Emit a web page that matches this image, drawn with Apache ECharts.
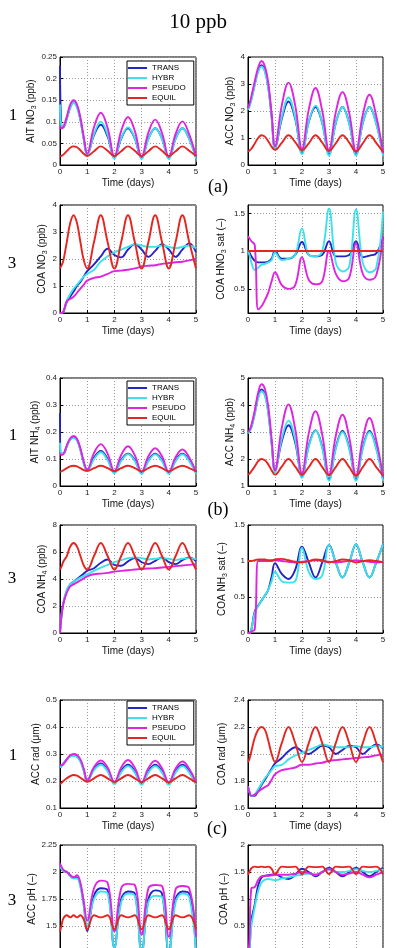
<!DOCTYPE html>
<html>
<head>
<meta charset="utf-8">
<title>10 ppb</title>
<script src="https://cdn.jsdelivr.net/npm/echarts@6/dist/echarts.min.js"></script>
<style>
html,body{margin:0;padding:0;background:#fff;}
#chart{width:397px;height:948px;}
</style>
</head>
<body>
<div id="chart"></div>
<script>
/*time axis (days), shared by every panel*/
var days = [0, 0.05, 0.125, 0.25, 0.375, 0.5, 0.625, 0.75, 0.875, 1,
    1.25, 1.5, 1.75, 2, 2.25, 2.5, 2.75, 3, 3.25, 3.5, 3.75, 4, 4.25, 4.5, 4.75, 5];
var seriesNames = ['TRANS', 'HYBR', 'PSEUDO', 'EQUIL'];

/*(a) AIT NO3*/
var aitNo3Trans  = [0.23, 0.09, 0.088, 0.108, 0.133, 0.145, 0.135, 0.105, 0.06, 0.024, 0.069, 0.093, 0.066, 0.017, 0.061, 0.085, 0.061, 0.016, 0.061, 0.085, 0.061, 0.016, 0.061, 0.085, 0.061, 0.017];
var aitNo3Hybr   = [0.14, 0.09, 0.088, 0.108, 0.132, 0.144, 0.133, 0.103, 0.058, 0.022, 0.072, 0.1, 0.07, 0.015, 0.062, 0.087, 0.062, 0.014, 0.06, 0.085, 0.06, 0.014, 0.06, 0.085, 0.06, 0.015];
var aitNo3Pseudo = [0.09, 0.085, 0.088, 0.112, 0.14, 0.15, 0.14, 0.11, 0.065, 0.026, 0.088, 0.121, 0.086, 0.02, 0.079, 0.111, 0.079, 0.019, 0.075, 0.105, 0.074, 0.019, 0.072, 0.101, 0.071, 0.02];
var aitNo3Equil  = [0.02, 0.021, 0.024, 0.032, 0.04, 0.043, 0.041, 0.034, 0.026, 0.021, 0.032, 0.043, 0.033, 0.021, 0.032, 0.043, 0.033, 0.021, 0.032, 0.043, 0.033, 0.021, 0.032, 0.043, 0.033, 0.021];
/*(a) ACC NO3*/
var accNo3Trans  = [2.1, 2.2, 2.45, 3.0, 3.5, 3.7, 3.5, 2.9, 1.8, 0.6, 1.7, 2.35, 1.7, 0.45, 1.6, 2.15, 1.55, 0.4, 1.55, 2.15, 1.55, 0.4, 1.55, 2.15, 1.55, 0.4];
var accNo3Hybr   = [2.05, 2.15, 2.4, 2.95, 3.45, 3.65, 3.45, 2.85, 1.75, 0.6, 1.78, 2.5, 1.75, 0.4, 1.6, 2.2, 1.55, 0.35, 1.55, 2.15, 1.52, 0.35, 1.55, 2.15, 1.52, 0.35];
var accNo3Pseudo = [2.1, 2.25, 2.55, 3.1, 3.6, 3.85, 3.65, 3.05, 1.9, 0.7, 2.2, 3.05, 2.2, 0.6, 2.05, 2.85, 2.0, 0.55, 1.95, 2.7, 1.92, 0.5, 1.85, 2.6, 1.82, 0.45];
var accNo3Equil  = [0.5, 0.53, 0.6, 0.8, 1.0, 1.1, 1.05, 0.88, 0.68, 0.56, 0.82, 1.1, 0.85, 0.55, 0.8, 1.1, 0.83, 0.52, 0.8, 1.1, 0.83, 0.5, 0.8, 1.1, 0.82, 0.48];
/*(a) COA NO3*/
var coaNo3Trans  = [0, 0, 0.05, 0.4, 0.6, 0.8, 1.0, 1.15, 1.35, 1.55, 1.8, 2.1, 2.38, 2.15, 2.06, 2.35, 2.55, 2.35, 2.08, 2.3, 2.55, 2.35, 2.08, 2.35, 2.58, 2.25];
var coaNo3Hybr   = [0, 0, 0.05, 0.45, 0.7, 0.9, 1.05, 1.2, 1.35, 1.45, 1.6, 1.9, 2.1, 2.25, 2.35, 2.45, 2.55, 2.5, 2.45, 2.45, 2.5, 2.45, 2.4, 2.45, 2.5, 2.4];
var coaNo3Pseudo = [0, 0, 0.05, 0.45, 0.52, 0.6, 0.75, 0.9, 1.05, 1.2, 1.3, 1.35, 1.45, 1.55, 1.57, 1.6, 1.65, 1.72, 1.75, 1.77, 1.82, 1.85, 1.88, 1.9, 1.95, 2.0];
var coaNo3Equil  = [1.65, 1.75, 1.95, 2.63, 3.33, 3.62, 3.33, 2.63, 1.95, 1.65, 2.63, 3.62, 2.63, 1.65, 2.63, 3.62, 2.63, 1.65, 2.63, 3.62, 2.63, 1.65, 2.63, 3.62, 2.63, 1.65];
/*(a) COA HNO3 saturation*/
var hno3SatTrans  = [1.0, 0.98, 0.93, 0.87, 0.85, 0.85, 0.85, 0.86, 0.9, 1.0, 0.9, 0.9, 0.95, 1.12, 0.95, 0.93, 0.95, 1.13, 0.93, 0.93, 0.95, 1.13, 0.92, 0.94, 0.97, 1.18];
var hno3SatHybr   = [1.0, 0.95, 0.85, 0.75, 0.78, 0.82, 0.83, 0.85, 0.88, 0.98, 0.88, 0.9, 0.95, 1.3, 0.95, 0.93, 1.0, 1.56, 0.85, 0.73, 0.8, 1.55, 0.85, 0.72, 0.78, 1.52];
var hno3SatPseudo = [1.2, 1.17, 1.13, 1.08, 0.23, 0.27, 0.35, 0.45, 0.6, 0.72, 0.55, 0.5, 0.55, 0.92, 0.62, 0.56, 0.6, 1.0, 0.7, 0.6, 0.65, 1.1, 0.7, 0.62, 0.68, 1.2];
var hno3SatEquil  = [1, 1, 1, 1, 1, 1, 1, 1, 1, 1, 1, 1, 1, 1, 1, 1, 1, 1, 1, 1, 1, 1, 1, 1, 1, 1];
/*(b) AIT NH4*/
var aitNh4Trans  = [0.27, 0.12, 0.12, 0.148, 0.173, 0.18, 0.17, 0.135, 0.085, 0.058, 0.105, 0.13, 0.1, 0.052, 0.097, 0.12, 0.096, 0.05, 0.096, 0.12, 0.096, 0.05, 0.096, 0.12, 0.096, 0.05];
var aitNh4Hybr   = [0.16, 0.12, 0.12, 0.147, 0.172, 0.178, 0.168, 0.132, 0.082, 0.055, 0.1, 0.125, 0.095, 0.047, 0.093, 0.118, 0.092, 0.045, 0.092, 0.117, 0.092, 0.045, 0.092, 0.117, 0.092, 0.046];
var aitNh4Pseudo = [0.12, 0.115, 0.118, 0.15, 0.177, 0.185, 0.175, 0.14, 0.09, 0.06, 0.122, 0.155, 0.12, 0.055, 0.115, 0.147, 0.114, 0.053, 0.11, 0.14, 0.11, 0.052, 0.107, 0.135, 0.106, 0.052];
var aitNh4Equil  = [0.053, 0.054, 0.058, 0.066, 0.073, 0.075, 0.073, 0.066, 0.059, 0.056, 0.066, 0.075, 0.066, 0.055, 0.066, 0.075, 0.066, 0.054, 0.066, 0.075, 0.066, 0.054, 0.066, 0.075, 0.066, 0.054];
/*(b) ACC NH4*/
var accNh4Trans  = [3.0, 3.05, 3.2, 3.7, 4.3, 4.58, 4.4, 3.75, 2.6, 1.55, 2.65, 3.25, 2.6, 1.35, 2.5, 3.07, 2.45, 1.25, 2.42, 3.05, 2.42, 1.25, 2.42, 3.05, 2.42, 1.25];
var accNh4Hybr   = [2.95, 3.0, 3.15, 3.65, 4.25, 4.5, 4.35, 3.7, 2.55, 1.5, 2.75, 3.42, 2.7, 1.3, 2.45, 3.05, 2.4, 1.2, 2.38, 3.0, 2.37, 1.2, 2.38, 3.0, 2.37, 1.2];
var accNh4Pseudo = [3.0, 3.05, 3.25, 3.8, 4.45, 4.77, 4.6, 3.95, 2.75, 1.58, 3.15, 4.02, 3.1, 1.48, 2.95, 3.77, 2.9, 1.42, 2.85, 3.64, 2.8, 1.4, 2.75, 3.52, 2.7, 1.35];
var accNh4Equil  = [1.42, 1.45, 1.55, 1.72, 1.92, 2.0, 1.95, 1.8, 1.58, 1.42, 1.72, 2.0, 1.72, 1.42, 1.7, 2.0, 1.7, 1.4, 1.7, 2.0, 1.7, 1.38, 1.7, 2.0, 1.7, 1.38];
/*(b) COA NH4*/
var coaNh4Trans  = [0, 1.2, 2.2, 3.1, 3.6, 3.8, 4.0, 4.2, 4.4, 4.6, 4.8, 5.2, 5.45, 5.05, 4.98, 5.3, 5.55, 5.25, 5.1, 5.35, 5.6, 5.25, 5.1, 5.4, 5.6, 5.3];
var coaNh4Hybr   = [0, 1.3, 2.3, 3.2, 3.6, 3.8, 3.95, 4.1, 4.22, 4.35, 4.6, 4.85, 5.05, 5.25, 5.4, 5.55, 5.6, 5.55, 5.45, 5.5, 5.55, 5.5, 5.4, 5.5, 5.55, 5.45];
var coaNh4Pseudo = [0, 1.2, 2.2, 3.0, 3.45, 3.6, 3.75, 3.9, 4.05, 4.2, 4.35, 4.4, 4.45, 4.55, 4.6, 4.65, 4.7, 4.75, 4.78, 4.8, 4.85, 4.9, 4.95, 5.0, 5.05, 5.1];
var coaNh4Equil  = [4.7, 4.9, 5.3, 5.7, 6.4, 6.67, 6.4, 5.7, 5.0, 4.7, 5.7, 6.67, 5.7, 4.7, 5.7, 6.67, 5.7, 4.7, 5.7, 6.67, 5.7, 4.7, 5.7, 6.67, 5.7, 4.7];
/*(b) COA NH3 saturation*/
var nh3SatTrans  = [0, 0, 0.05, 0.3, 0.38, 0.45, 0.52, 0.6, 0.78, 0.97, 0.82, 0.75, 0.88, 1.2, 0.98, 0.77, 0.98, 1.22, 0.98, 0.77, 0.98, 1.23, 0.98, 0.77, 0.98, 1.23];
var nh3SatHybr   = [0, 0, 0.05, 0.28, 0.37, 0.45, 0.52, 0.6, 0.72, 0.85, 0.72, 0.7, 0.72, 1.18, 0.85, 0.75, 0.8, 1.22, 0.98, 0.77, 0.98, 1.23, 0.98, 0.77, 0.98, 1.23];
var nh3SatPseudo = [0, 0, 0.02, 0.05, 1.0, 1.0, 1.0, 1.0, 1.0, 1.01, 1.0, 0.99, 0.98, 0.99, 1.0, 1.01, 1.0, 0.99, 0.98, 0.99, 1.0, 1.01, 1.0, 0.99, 0.98, 0.99];
var nh3SatEquil  = [1.0, 1.0, 1.0, 1.01, 1.02, 1.02, 1.02, 1.01, 1.01, 1.02, 1.03, 1.01, 0.99, 0.98, 1.0, 1.02, 1.01, 0.98, 1.0, 1.02, 1.01, 0.98, 1.0, 1.01, 1.0, 0.98];
/*(c) ACC radius*/
var accRadTrans  = [0.25, 0.255, 0.265, 0.28, 0.292, 0.295, 0.291, 0.275, 0.24, 0.2, 0.245, 0.265, 0.24, 0.192, 0.238, 0.26, 0.236, 0.19, 0.236, 0.26, 0.236, 0.19, 0.236, 0.26, 0.236, 0.19];
var accRadHybr   = [0.25, 0.255, 0.265, 0.28, 0.29, 0.293, 0.289, 0.272, 0.237, 0.198, 0.24, 0.26, 0.236, 0.188, 0.232, 0.255, 0.231, 0.186, 0.231, 0.255, 0.231, 0.186, 0.231, 0.255, 0.231, 0.187];
var accRadPseudo = [0.26, 0.258, 0.262, 0.28, 0.295, 0.3, 0.296, 0.28, 0.245, 0.202, 0.252, 0.276, 0.25, 0.197, 0.25, 0.278, 0.249, 0.195, 0.248, 0.275, 0.247, 0.195, 0.246, 0.272, 0.245, 0.195];
var accRadEquil  = [0.188, 0.192, 0.2, 0.21, 0.218, 0.222, 0.22, 0.212, 0.203, 0.197, 0.21, 0.222, 0.21, 0.196, 0.21, 0.222, 0.21, 0.196, 0.21, 0.222, 0.21, 0.195, 0.21, 0.222, 0.21, 0.195];
/*(c) COA radius*/
var coaRadTrans  = [1.76, 1.72, 1.69, 1.69, 1.73, 1.77, 1.81, 1.85, 1.89, 1.93, 1.97, 2.02, 2.05, 2.02, 2.0, 2.03, 2.06, 2.05, 2.0, 2.03, 2.06, 2.05, 2.0, 2.04, 2.07, 2.04];
var coaRadHybr   = [1.76, 1.72, 1.69, 1.7, 1.74, 1.78, 1.82, 1.85, 1.88, 1.91, 1.92, 1.96, 1.99, 2.01, 2.03, 2.05, 2.07, 2.06, 2.05, 2.05, 2.05, 2.06, 2.05, 2.05, 2.06, 2.05];
var coaRadPseudo = [1.76, 1.72, 1.69, 1.7, 1.72, 1.74, 1.755, 1.77, 1.81, 1.85, 1.88, 1.89, 1.9, 1.92, 1.92, 1.93, 1.935, 1.95, 1.955, 1.96, 1.965, 1.97, 1.975, 1.98, 1.99, 1.995];
var coaRadEquil  = [1.94, 1.96, 2.02, 2.12, 2.18, 2.2, 2.18, 2.1, 2.0, 1.94, 2.08, 2.2, 2.08, 1.94, 2.08, 2.2, 2.08, 1.94, 2.08, 2.2, 2.08, 1.94, 2.08, 2.2, 2.08, 1.94];
/*(c) ACC pH*/
var accPhTrans  = [2.05, 2.03, 2.01, 2.0, 1.97, 1.95, 1.95, 1.88, 1.7, 1.45, 1.78, 1.85, 1.83, 1.3, 1.75, 1.82, 1.8, 1.25, 1.75, 1.83, 1.8, 1.25, 1.75, 1.82, 1.8, 1.25];
var accPhHybr   = [2.05, 2.03, 2.01, 2.0, 1.96, 1.94, 1.94, 1.86, 1.68, 1.5, 1.75, 1.82, 1.8, 1.3, 1.72, 1.8, 1.78, 1.25, 1.72, 1.78, 1.77, 1.25, 1.72, 1.8, 1.77, 1.25];
var accPhPseudo = [2.08, 2.05, 2.02, 2.0, 1.97, 1.95, 1.97, 1.9, 1.72, 1.55, 1.85, 1.92, 1.9, 1.45, 1.85, 1.89, 1.88, 1.42, 1.85, 1.88, 1.87, 1.4, 1.84, 1.87, 1.85, 1.4];
var accPhEquil  = [1.45, 1.5, 1.57, 1.6, 1.58, 1.6, 1.58, 1.6, 1.56, 1.47, 1.6, 1.58, 1.6, 1.47, 1.6, 1.58, 1.6, 1.47, 1.6, 1.58, 1.6, 1.47, 1.6, 1.58, 1.6, 1.47];
/*(c) COA pH*/
var coaPhTrans  = [0, 0.05, 0.6, 0.9, 1.25, 1.4, 1.43, 1.44, 1.45, 1.46, 1.4, 1.37, 1.45, 1.56, 1.5, 1.42, 1.5, 1.58, 1.5, 1.42, 1.5, 1.58, 1.5, 1.42, 1.5, 1.58];
var coaPhHybr   = [0, 0.05, 0.5, 0.85, 1.15, 1.3, 1.36, 1.37, 1.36, 1.35, 1.38, 1.4, 1.43, 1.45, 1.47, 1.45, 1.5, 1.55, 1.5, 1.5, 1.52, 1.55, 1.52, 1.5, 1.52, 1.55];
var coaPhPseudo = [0, 0.2, 1.2, 1.22, 1.35, 1.42, 1.43, 1.43, 1.44, 1.45, 1.45, 1.45, 1.47, 1.5, 1.48, 1.45, 1.5, 1.55, 1.5, 1.45, 1.47, 1.5, 1.45, 1.4, 1.45, 1.5];
var coaPhEquil  = [1.45, 1.5, 1.57, 1.6, 1.59, 1.6, 1.59, 1.6, 1.56, 1.46, 1.6, 1.59, 1.6, 1.46, 1.6, 1.59, 1.6, 1.46, 1.6, 1.59, 1.6, 1.46, 1.6, 1.59, 1.6, 1.46];

/*colours (matlab-like)*/
var lineColors = {TRANS: '#2323c8', HYBR: '#3ae3ea', PSEUDO: '#e023e0', EQUIL: '#e62420'};

/*layout*/
var colLeft = [60, 248], colWidth = [136, 135];
var rowTop = [57, 205, 378, 525, 700, 845], plotHeight = 108;
var font = 'Liberation Sans, Arial, sans-serif';
var serif = '"Liberation Serif", "DejaVu Serif", serif';

var panels = [
    {col: 0, row: 0, y: [0, 0.25, 0.05], name: '{n|AIT NO}{s|3}{n| (ppb)}', gap: 21, data: [aitNo3Trans, aitNo3Hybr, aitNo3Pseudo, aitNo3Equil]},
    {col: 1, row: 0, y: [0, 4, 1], name: '{n|ACC NO}{s|3}{n| (ppb)}', gap: 11, data: [accNo3Trans, accNo3Hybr, accNo3Pseudo, accNo3Equil]},
    {col: 0, row: 1, y: [0, 4, 1], name: '{n|COA NO}{s|3}{n| (ppb)}', gap: 9, data: [coaNo3Trans, coaNo3Hybr, coaNo3Pseudo, coaNo3Equil]},
    {col: 1, row: 1, y: [0.18, 1.61], ticks: [0.5, 1, 1.5], name: '{n|COA HNO}{s|3}{n| sat (–)}', gap: 20, data: [hno3SatTrans, hno3SatHybr, hno3SatPseudo, hno3SatEquil]},
    {col: 0, row: 2, y: [0, 0.4, 0.1], name: '{n|AIT NH}{s|4}{n| (ppb)}', gap: 16, data: [aitNh4Trans, aitNh4Hybr, aitNh4Pseudo, aitNh4Equil]},
    {col: 1, row: 2, y: [1, 5, 1], name: '{n|ACC NH}{s|4}{n| (ppb)}', gap: 11, data: [accNh4Trans, accNh4Hybr, accNh4Pseudo, accNh4Equil]},
    {col: 0, row: 3, y: [0, 8, 2], name: '{n|COA NH}{s|4}{n| (ppb)}', gap: 9, data: [coaNh4Trans, coaNh4Hybr, coaNh4Pseudo, coaNh4Equil]},
    {col: 1, row: 3, y: [0, 1.5, 0.5], name: '{n|COA NH}{s|3}{n| sat (–)}', gap: 19, data: [nh3SatTrans, nh3SatHybr, nh3SatPseudo, nh3SatEquil]},
    {col: 0, row: 4, y: [0.1, 0.5, 0.1], name: '{n|ACC rad (μm)}', gap: 17, data: [accRadTrans, accRadHybr, accRadPseudo, accRadEquil]},
    {col: 1, row: 4, y: [1.6, 2.4, 0.2], name: '{n|COA rad (μm)}', gap: 19, data: [coaRadTrans, coaRadHybr, coaRadPseudo, coaRadEquil]},
    {col: 0, row: 5, y: [1.25, 2.25, 0.25], name: '{n|ACC pH (–)}', gap: 21, data: [accPhTrans, accPhHybr, accPhPseudo, accPhEquil]},
    {col: 1, row: 5, y: [0, 2, 0.5], name: '{n|COA pH (–)}', gap: 17, data: [coaPhTrans, coaPhHybr, coaPhPseudo, coaPhEquil]}
];

/*free text: title, row numbers, panel letters*/
var texts = [
    {text: '10 ppb', x: 198, y: 22, size: 21},
    {text: '1', x: 13, y: 116, size: 17}, {text: '3', x: 12, y: 264, size: 17},
    {text: '1', x: 13, y: 436, size: 17}, {text: '3', x: 12, y: 579, size: 17},
    {text: '1', x: 13, y: 756, size: 17}, {text: '3', x: 12, y: 901, size: 17},
    {text: '(a)', x: 218, y: 187, size: 18}, {text: '(b)', x: 218, y: 510, size: 18},
    {text: '(c)', x: 217, y: 829, size: 18}
];

var gridLine = {show: true, lineStyle: {color: '#9a9a9a', width: 1, type: [1, 2]}};

function lineSeries(idx, name, vals) {
    return {
        name: name,
        type: 'line',
        xAxisIndex: idx,
        yAxisIndex: idx,
        data: days.map(function (d, i) { return [d, vals[i]]; }),
        showSymbol: false,
        symbol: 'none',
        smooth: 0.4,
        lineStyle: {width: 1.9, color: lineColors[name]},
        itemStyle: {color: lineColors[name]},
        silent: true
    };
}

function legendAt(left, top) {
    return {
        orient: 'vertical', left: left, top: top,
        data: seriesNames, icon: 'rect',
        itemWidth: 19, itemHeight: 2, itemGap: 0,
        selectedMode: false,
        padding: [2, 8, 2, 1],
        backgroundColor: '#fff', borderColor: '#000', borderWidth: 1,
        textStyle: {fontSize: 8, lineHeight: 10, color: '#000', fontFamily: font}
    };
}

function buildOption() {
    var grids = [], xAxes = [], yAxes = [], series = [];
    panels.forEach(function (p, i) {
        grids.push({
            left: colLeft[p.col], width: colWidth[p.col],
            top: rowTop[p.row], height: plotHeight,
            outerBoundsMode: 'none', containLabel: false,
            show: true, borderColor: '#000', borderWidth: 1, backgroundColor: '#fff'
        });
        xAxes.push({
            gridIndex: i, type: 'value', min: 0, max: 5, interval: 1,
            name: 'Time (days)', nameLocation: 'middle', nameGap: 13,
            nameTextStyle: {fontSize: 10, color: '#111', fontFamily: font},
            axisLine: {show: true, onZero: false, lineStyle: {color: '#000'}},
            axisTick: {inside: true, length: 3, lineStyle: {color: '#000'}},
            axisLabel: {fontSize: 8, margin: 3, color: '#222', fontFamily: font},
            splitLine: gridLine
        });
        var ya = {
            gridIndex: i, type: 'value', min: p.y[0], max: p.y[1],
            name: p.name, nameLocation: 'middle', nameGap: p.gap, nameRotate: 90,
            nameTextStyle: {
                color: '#111', fontFamily: font,
                rich: {
                    n: {fontSize: 10, lineHeight: 13, fontFamily: font, color: '#111'},
                    s: {fontSize: 7, lineHeight: 8, verticalAlign: 'bottom', fontFamily: font, color: '#111'}
                }
            },
            axisLine: {show: true, lineStyle: {color: '#000'}},
            axisTick: {inside: true, length: 3, lineStyle: {color: '#000'}},
            axisLabel: {fontSize: 8, margin: 3, color: '#222', fontFamily: font},
            splitLine: gridLine
        };
        if (p.ticks) {
            ya.axisLabel.customValues = p.ticks;
            ya.axisTick.customValues = p.ticks;
        } else {
            ya.interval = p.y[2];
        }
        yAxes.push(ya);
        p.data.forEach(function (vals, k) {
            series.push(lineSeries(i, seriesNames[k], vals));
        });
    });

    var graphic = texts.map(function (t) {
        return {
            type: 'text', z: 100,
            style: {
                text: t.text, x: t.x, y: t.y,
                font: t.size + 'px ' + serif,
                fill: '#000', align: 'center', verticalAlign: 'middle'
            }
        };
    });

    return {
        animation: false,
        backgroundColor: '#fff',
        textStyle: {fontFamily: font},
        grid: grids,
        xAxis: xAxes,
        yAxis: yAxes,
        legend: [legendAt(127, 61), legendAt(127, 381), legendAt(127, 701)],
        graphic: graphic,
        series: series
    };
}

var chart = echarts.init(document.getElementById('chart'));
chart.setOption(buildOption());
</script>
</body>
</html>
